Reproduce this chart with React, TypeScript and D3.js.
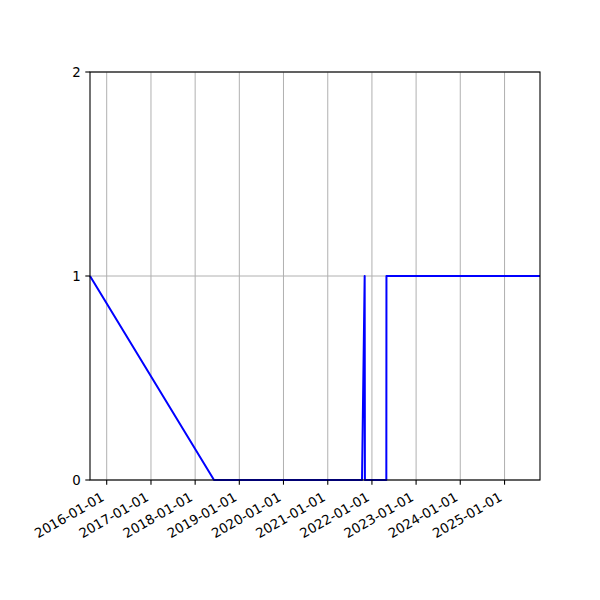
import { useEffect, useRef } from "react";
import * as d3 from "d3";

// dates and values of the series
const dates: string[] = [
  "2015-08-16",
  "2018-06-06",
  "2021-10-11",
  "2021-11-02",
  "2021-11-04",
  "2022-04-30",
  "2022-05-01",
  "2025-10-21",
];
const values: number[] = [1, 0, 0, 1, 0, 0, 1, 1];

const xTicks: string[] = [
  "2016-01-01",
  "2017-01-01",
  "2018-01-01",
  "2019-01-01",
  "2020-01-01",
  "2021-01-01",
  "2022-01-01",
  "2023-01-01",
  "2024-01-01",
  "2025-01-01",
];
const yTicks: number[] = [0, 1, 2];

export default function App() {
  const svgRef = useRef(null);

  useEffect(() => {
    const width = 600;
    const height = 600;
    const margin = { top: 72, right: 60, bottom: 120, left: 90 };
    const font = "DejaVu Sans, sans-serif";

    const svg = d3.select(svgRef.current).attr("width", width).attr("height", height);
    svg.selectAll("*").remove();

    const parse = d3.utcParse("%Y-%m-%d");
    const data = dates.map((d, i) => ({ date: parse(d) as Date, value: values[i] }));

    const x = d3
      .scaleUtc()
      .domain(d3.extent(data, (d) => d.date) as [Date, Date])
      .range([margin.left, width - margin.right]);
    const y = d3
      .scaleLinear()
      .domain([0, 2])
      .range([height - margin.bottom, margin.top]);

    svg.append("rect").attr("width", width).attr("height", height).attr("fill", "white");

    // grid
    const grid = svg.append("g").attr("stroke", "#b0b0b0").attr("stroke-width", 1);
    grid
      .selectAll("line.vx")
      .data(xTicks)
      .join("line")
      .attr("x1", (d) => x(parse(d) as Date))
      .attr("x2", (d) => x(parse(d) as Date))
      .attr("y1", margin.top)
      .attr("y2", height - margin.bottom);
    grid
      .selectAll("line.hy")
      .data(yTicks)
      .join("line")
      .attr("x1", margin.left)
      .attr("x2", width - margin.right)
      .attr("y1", (d) => y(d))
      .attr("y2", (d) => y(d));

    // line
    const line = d3
      .line<{ date: Date; value: number }>()
      .x((d) => x(d.date))
      .y((d) => y(d.value));
    svg
      .append("path")
      .datum(data)
      .attr("d", line)
      .attr("fill", "none")
      .attr("stroke", "blue")
      .attr("stroke-width", 2)
      .attr("stroke-linejoin", "round");

    // frame
    svg
      .append("rect")
      .attr("x", margin.left)
      .attr("y", margin.top)
      .attr("width", width - margin.left - margin.right)
      .attr("height", height - margin.top - margin.bottom)
      .attr("fill", "none")
      .attr("stroke", "black")
      .attr("stroke-width", 1.1);

    // x ticks
    const xg = svg.append("g");
    const bottom = height - margin.bottom;
    xg.selectAll("line")
      .data(xTicks)
      .join("line")
      .attr("x1", (d) => x(parse(d) as Date))
      .attr("x2", (d) => x(parse(d) as Date))
      .attr("y1", bottom)
      .attr("y2", bottom + 4.7)
      .attr("stroke", "black")
      .attr("stroke-width", 1.1);
    xg.selectAll("text")
      .data(xTicks)
      .join("text")
      .attr(
        "transform",
        (d) => `translate(${x(parse(d) as Date) - 1.5},${bottom + 9.3 + 10.5}) rotate(-30)`
      )
      .attr("text-anchor", "end")
      .attr("font-family", font)
      .attr("font-size", 13.33)
      .attr("fill", "black")
      .text((d) => d);

    // y ticks
    const yg = svg.append("g");
    yg.selectAll("line")
      .data(yTicks)
      .join("line")
      .attr("x1", margin.left - 4.7)
      .attr("x2", margin.left)
      .attr("y1", (d) => y(d))
      .attr("y2", (d) => y(d))
      .attr("stroke", "black")
      .attr("stroke-width", 1.1);
    yg.selectAll("text")
      .data(yTicks)
      .join("text")
      .attr("x", margin.left - 9.3)
      .attr("y", (d) => y(d))
      .attr("dy", "0.35em")
      .attr("text-anchor", "end")
      .attr("font-family", font)
      .attr("font-size", 13.33)
      .attr("fill", "black")
      .text((d) => d);
  }, []);

  return (
    <div style={{ position: "absolute", left: 0, top: 0 }}>
      <svg ref={svgRef}></svg>
    </div>
  );
}
